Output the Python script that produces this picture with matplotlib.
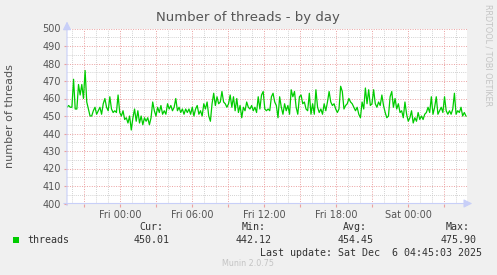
import matplotlib
matplotlib.use("Agg")
import matplotlib.pyplot as plt
import numpy as np
from matplotlib.patches import Rectangle

# ---------------------------------------------------------------------------
# Data (5-minute samples, hours relative to Fri 00:00)
# ---------------------------------------------------------------------------

T_START = -4.42
T_END = 28.83

threads = [
    455, 456, 455, 455, 471, 454, 454, 468, 462, 468, 460, 476, 458, 454, 450,
    450, 453, 455, 451, 453, 455, 451, 457, 460, 455, 453, 461, 454, 452, 453,
    452, 462, 452, 450, 453, 448, 449, 446, 450, 442, 449, 454, 447, 453, 446,
    450, 445, 449, 447, 449,
    445, 449, 458, 453, 450, 455, 452, 456, 451, 453, 451, 457, 454, 456, 453,
    455, 460, 453, 455, 452, 454, 451, 454, 452, 454, 451, 455, 450, 454, 456,
    451, 453, 450, 457, 454, 458, 450, 447, 457, 463, 456, 461, 457, 458, 464,
    458, 457, 455,
    457, 462, 455, 461, 453, 460, 452, 456, 449, 455, 453, 458, 455, 454, 456,
    453, 455, 452, 461, 454, 462, 464, 454, 453, 454, 453, 461, 463, 458, 456,
    449, 461, 455, 451, 457, 453, 456, 451, 465, 461, 464, 455, 451, 461, 462,
    457, 458, 454, 453,
    463, 451, 457, 451, 465, 455, 452, 454, 451, 457, 453, 458, 464, 458, 456,
    457, 454, 452, 454, 467, 464, 454, 456, 457, 460, 458, 457, 455, 453, 455,
    451, 449, 458, 454, 466, 457, 465, 456, 457, 465, 457, 455, 458, 456, 462,
    456, 452, 449,
    450, 461, 464, 455, 460, 454, 457, 452, 453, 449, 458, 451, 447, 449, 453,
    446, 449, 447, 452, 448, 450, 448, 451, 452, 455, 452, 461, 451, 455, 461,
    451, 453, 455, 452, 461, 453, 451, 453, 451, 454, 463, 451, 453, 452, 455,
    450, 452, 450,
]

x_ticks = [-3, 0, 3, 6, 9, 12, 15, 18, 21, 24, 27]
x_labels = ["", "Fri 00:00", "", "Fri 06:00", "", "Fri 12:00", "",
            "Fri 18:00", "", "Sat 00:00", ""]
y_ticks = [400, 410, 420, 430, 440, 450, 460, 470, 480, 490, 500]

stat_names = ["Cur:", "Min:", "Avg:", "Max:"]
stat_values = ["450.01", "442.12", "454.45", "475.90"]

# ---------------------------------------------------------------------------
# Style
# ---------------------------------------------------------------------------

BACK = "#F0F0F0"
FONT = "#555555"
MGRID = "#EBA0A0"
GRID = "#C4C4C4"
AXIS = "#C8CFF8"
LINE = "#00CC00"

W, H = 497, 275

fig = plt.figure(figsize=(W / 100, H / 100), dpi=100, facecolor=BACK)
ax = fig.add_axes([67 / W, 1 - 203.5 / H, 400 / W, 175 / H])
ax.set_facecolor("white")

times = np.linspace(T_START, T_END, len(threads))

ax.set_xlim(-4.417, 28.917)
ax.set_ylim(400, 500)

# grids
ax.set_xticks(np.arange(-4, 29, 1), minor=True)
ax.set_yticks(np.arange(405, 500, 10), minor=True)
ax.grid(which="minor", color=GRID, linestyle=(0, (1, 1.5)), linewidth=0.6)
ax.grid(which="major", color=MGRID, linestyle=(0, (1, 1.5)), linewidth=0.7)

ax.set_xticks(x_ticks)
ax.set_xticklabels(x_labels)
ax.set_yticks(y_ticks)
ax.tick_params(axis="both", which="major", length=2, color=MGRID,
               labelcolor=FONT, labelsize=7)
ax.tick_params(axis="x", which="major", pad=2.5)
ax.tick_params(axis="y", which="major", pad=2.5)
ax.tick_params(which="minor", length=0)
for lbl in ax.get_xticklabels() + ax.get_yticklabels():
    lbl.set_fontfamily("DejaVu Sans")

for s in ax.spines.values():
    s.set_visible(False)

ax.plot(times, threads, color=LINE, linewidth=0.9, zorder=3)

# axis arrows
ax.annotate("", xy=(1.013, 0), xytext=(-0.008, 0), xycoords="axes fraction",
            arrowprops=dict(arrowstyle="-|>,head_length=0.5,head_width=0.25",
                            color=AXIS, lw=0.8, shrinkA=0, shrinkB=0),
            annotation_clip=False, zorder=4)
ax.annotate("", xy=(0, 1.04), xytext=(0, -0.012), xycoords="axes fraction",
            arrowprops=dict(arrowstyle="-|>,head_length=0.5,head_width=0.25",
                            color=AXIS, lw=0.8, shrinkA=0, shrinkB=0),
            annotation_clip=False, zorder=4)

# titles
fig.text(248 / W, 1 - 18 / H, "Number of threads - by day", ha="center",
         va="center", fontsize=9.5, color=FONT)
fig.text(10 / W, 1 - 116 / H, "number of threads", rotation=90,
         ha="center", va="center", fontsize=8, color=FONT)
fig.text(488 / W, 1 - 4 / H, "RRDTOOL / TOBI OETIKER", rotation=270,
         ha="center", va="top", fontsize=5.8, color="#C4C4C4")

# legend
fig.patches.append(Rectangle((13 / W, 1 - 243 / H), 6 / W, 6 / H,
                             transform=fig.transFigure, facecolor=LINE,
                             edgecolor="none"))
mono = dict(family="DejaVu Sans Mono", fontsize=7.2, color="#333333",
            va="center")
fig.text(27 / W, 1 - 240 / H, "threads", ha="left", **mono)
name_right = [163, 266, 367, 470]
value_right = [170, 272, 374, 477]
for name, val, xn, xv in zip(stat_names, stat_values, name_right, value_right):
    fig.text(xn / W, 1 - 227 / H, name, ha="right", **mono)
    fig.text(xv / W, 1 - 240 / H, val, ha="right", **mono)
fig.text(482 / W, 1 - 252.5 / H, "Last update: Sat Dec  6 04:45:03 2025",
         ha="right", **mono)
fig.text(248 / W, 1 - 264 / H, "Munin 2.0.75", ha="center", va="center",
         fontsize=5.8, color="#C4C4C4")

fig.savefig("out.png", dpi=100, facecolor=BACK)
